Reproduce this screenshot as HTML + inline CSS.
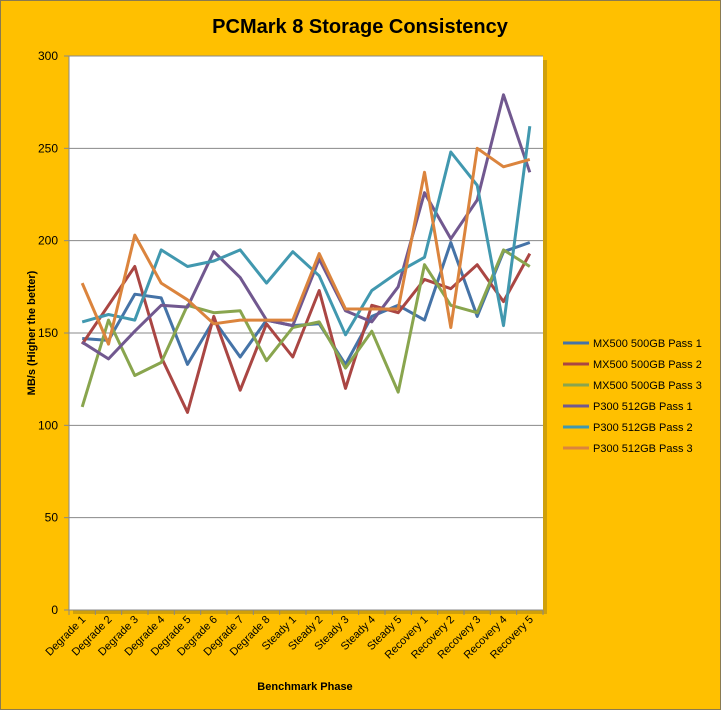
<!DOCTYPE html>
<html><head><meta charset="utf-8"><style>
html,body{margin:0;padding:0;background:#FFC000;}
svg{display:block;font-family:"Liberation Sans",sans-serif;}
</style></head><body>
<svg id="c" width="721" height="710" xmlns="http://www.w3.org/2000/svg"></svg>
<script>
const s=document.getElementById('c');
let h='';
h+='<rect x="0.5" y="0.5" width="720" height="709" fill="#FFC000" stroke="#8a7a50"/>';
const L=69,R=543,T=56,B=610;
h+='<rect x="'+(L+4)+'" y="'+(T+4)+'" width="'+(R-L)+'" height="'+(B-T)+'" fill="#b08a10" opacity="0.6"/>';
h+='<rect x="'+L+'" y="'+T+'" width="'+(R-L)+'" height="'+(B-T)+'" fill="#fff"/>';
const Y=v=>B-(v/300)*(B-T);
for(let v=0;v<=300;v+=50){const y=Y(v);
 if(v>0)h+='<line x1="'+L+'" x2="'+R+'" y1="'+y+'" y2="'+y+'" stroke="#888" stroke-width="1"/>';
 h+='<line x1="'+(L-5)+'" x2="'+L+'" y1="'+y+'" y2="'+y+'" stroke="#888"/>';
 h+='<text x="'+(L-11)+'" y="'+(y+4)+'" font-size="12" text-anchor="end" fill="#000">'+v+'</text>';}
h+='<line x1="'+L+'" x2="'+L+'" y1="'+T+'" y2="'+B+'" stroke="#888"/>';
h+='<line x1="'+L+'" x2="'+R+'" y1="'+B+'" y2="'+B+'" stroke="#888"/>';
const cats=['Degrade 1','Degrade 2','Degrade 3','Degrade 4','Degrade 5','Degrade 6','Degrade 7','Degrade 8','Steady 1','Steady 2','Steady 3','Steady 4','Steady 5','Recovery 1','Recovery 2','Recovery 3','Recovery 4','Recovery 5'];
const w=(R-L)/18;
for(let i=0;i<=18;i++){const x=L+i*w;h+='<line x1="'+x+'" x2="'+x+'" y1="'+B+'" y2="'+(B+5)+'" stroke="#888"/>';}
cats.forEach((c,i)=>{const x=L+(i+0.5)*w+4,y=B+10;
 h+='<text x="'+x+'" y="'+y+'" font-size="11" text-anchor="end" transform="rotate(-45 '+x+' '+y+')">'+c+'</text>';});
const ser=[
['MX500 500GB Pass 1','#4573A7',[147,146,171,169,133,157,137,157,154,155,133,159,165,157,199,159,194,199]],
['MX500 500GB Pass 2','#AA4643',[144,165,186,137,107,159,119,155,137,173,120,165,161,179,174,187,167,193]],
['MX500 500GB Pass 3','#89A54E',[110,157,127,134,165,161,162,135,153,156,131,151,118,187,165,161,195,186]],
['P300 512GB Pass 1','#71588F',[145,136,151,165,164,194,180,157,154,190,162,156,175,226,201,222,279,237]],
['P300 512GB Pass 2','#4198AF',[156,160,157,195,186,189,195,177,194,181,149,173,183,191,248,230,154,262]],
['P300 512GB Pass 3','#DB843D',[177,144,203,177,168,155,157,157,157,193,163,163,163,237,153,250,240,244]]];
ser.forEach((sr,k)=>{
 const p=sr[2].map((v,i)=>(L+(i+0.5)*w).toFixed(1)+','+Y(v).toFixed(1)).join(' ');
 h+='<polyline points="'+p+'" fill="none" stroke="'+sr[1]+'" stroke-width="3" stroke-linejoin="round"/>';
 const ly=343+k*21;
 h+='<line x1="563" x2="589" y1="'+ly+'" y2="'+ly+'" stroke="'+sr[1]+'" stroke-width="3"/>';
 h+='<text x="593" y="'+(ly+4)+'" font-size="11">'+sr[0]+'</text>';});
h+='<text x="360" y="33" font-size="20" font-weight="bold" text-anchor="middle">PCMark 8 Storage Consistency</text>';
h+='<text x="305" y="690" font-size="11" font-weight="bold" text-anchor="middle">Benchmark Phase</text>';
h+='<text x="35" y="333" font-size="11" font-weight="bold" text-anchor="middle" transform="rotate(-90 35 333)">MB/s (Higher the better)</text>';
s.innerHTML=h;
</script>
</body></html>
